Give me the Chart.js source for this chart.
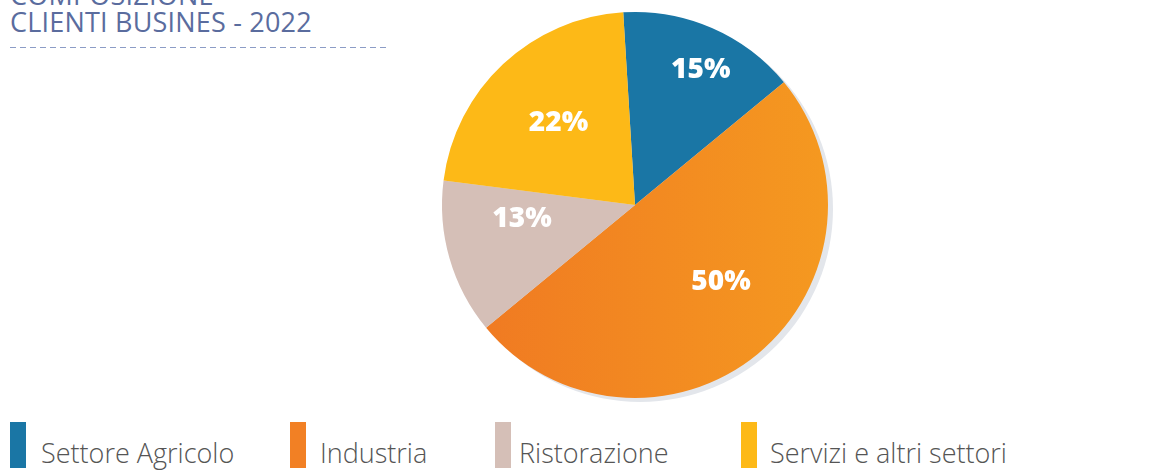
<!DOCTYPE html>
<html>
<head>
<meta charset="utf-8">
<script src="https://cdn.jsdelivr.net/npm/chart.js@4"></script>
<style>
  html, body { margin:0; padding:0; background:#fff; width:1151px; height:474px; overflow:hidden; position:relative; }
  #title { position:absolute; left:10px; top:-19px; font-family:"Open Sans", sans-serif; font-weight:400; font-size:27px; line-height:27px; color:#5a6c9e; letter-spacing:0.2px; white-space:nowrap; }
  #dash { position:absolute; left:10px; top:47px; width:376px; height:1px;
    background:repeating-linear-gradient(to right, #8c9cc6 0 6px, transparent 6px 10px); }
  #wrap { position:absolute; left:420px; top:1px; width:430px; height:408px; }
  .leg { position:absolute; top:422px; height:46px; }
  .leg .bar { position:absolute; left:0; top:0; width:16px; height:46px; }
  .leg .txt { position:absolute; top:12px; white-space:nowrap; font-family:"Open Sans", sans-serif; font-weight:300; font-size:27px; line-height:normal; color:#555; letter-spacing:0; }
</style>
</head>
<body>
<div id="title">COMPOSIZIONE<br>CLIENTI BUSINES - 2022</div>
<div id="dash"></div>
<div id="wrap"><canvas id="c"></canvas></div>
<div id="legend"></div>
<script>
const categories = ["Settore Agricolo", "Industria", "Ristorazione", "Servizi e altri settori"];
const shares = [15, 50, 13, 22];
const valueLabels = ["15%", "50%", "13%", "22%"];
const colors = ["#1a76a5", "#f28024", "#d5bfb7", "#fdb917"];
const legendX = [10, 290, 495, 741];
const legendTextGap = [31, 30, 24, 29];
const labelRadius = [0.78, 0.60, 0.59, 0.58];
const labelAngleShift = [2.4, -8.5, 9, 0];

// HTML legend
const legEl = document.getElementById('legend');
categories.forEach((c, i) => {
  const d = document.createElement('div');
  d.className = 'leg';
  d.style.left = legendX[i] + 'px';
  d.innerHTML = '<div class="bar" style="background:' + colors[i] + '"></div><div class="txt" style="left:' + legendTextGap[i] + 'px">' + c + '</div>';
  legEl.appendChild(d);
});

const shadowPlugin = {
  id: 'shadow',
  beforeDatasetsDraw(chart) {
    const arc = chart.getDatasetMeta(0).data[0];
    const ctx = chart.ctx;
    ctx.save();
    ctx.fillStyle = '#e3e6eb';
    ctx.beginPath();
    ctx.arc(arc.x + 5, arc.y + 4, arc.outerRadius, 0, Math.PI * 2);
    ctx.fill();
    ctx.restore();
  }
};

const labelPlugin = {
  id: 'sliceLabels',
  afterDatasetsDraw(chart) {
    const ctx = chart.ctx;
    const meta = chart.getDatasetMeta(0);
    ctx.save();
    ctx.fillStyle = '#ffffff';
    ctx.font = '800 28px "Open Sans", sans-serif';
    ctx.textAlign = 'center';
    ctx.textBaseline = 'middle';
    meta.data.forEach((arc, i) => {
      const mid = (arc.startAngle + arc.endAngle) / 2 + labelAngleShift[i] * Math.PI / 180;
      const r = arc.outerRadius * labelRadius[i];
      ctx.fillText(valueLabels[i], arc.x + Math.cos(mid) * r, arc.y + Math.sin(mid) * r);
    });
    ctx.restore();
  }
};

new Chart(document.getElementById('c'), {
  type: 'pie',
  data: {
    labels: categories,
    datasets: [{
      data: shares,
      backgroundColor: (ctx) => {
        if (ctx.dataIndex === 1 && ctx.chart.chartArea) {
          const a = ctx.chart.chartArea;
          const g = ctx.chart.ctx.createLinearGradient(a.left + 60, 0, a.right - 10, 0);
          g.addColorStop(0, '#f07a22');
          g.addColorStop(1, '#f59a20');
          return g;
        }
        return colors[ctx.dataIndex];
      },
      borderWidth: 0,
      hoverOffset: 0,
      radius: 193,
      rotation: -3.5
    }]
  },
  options: {
    responsive: true,
    maintainAspectRatio: false,
    animation: false,
    layout: { padding: 0 },
    plugins: { legend: { display: false }, tooltip: { enabled: false } }
  },
  plugins: [shadowPlugin, labelPlugin]
});
</script>
</body>
</html>
